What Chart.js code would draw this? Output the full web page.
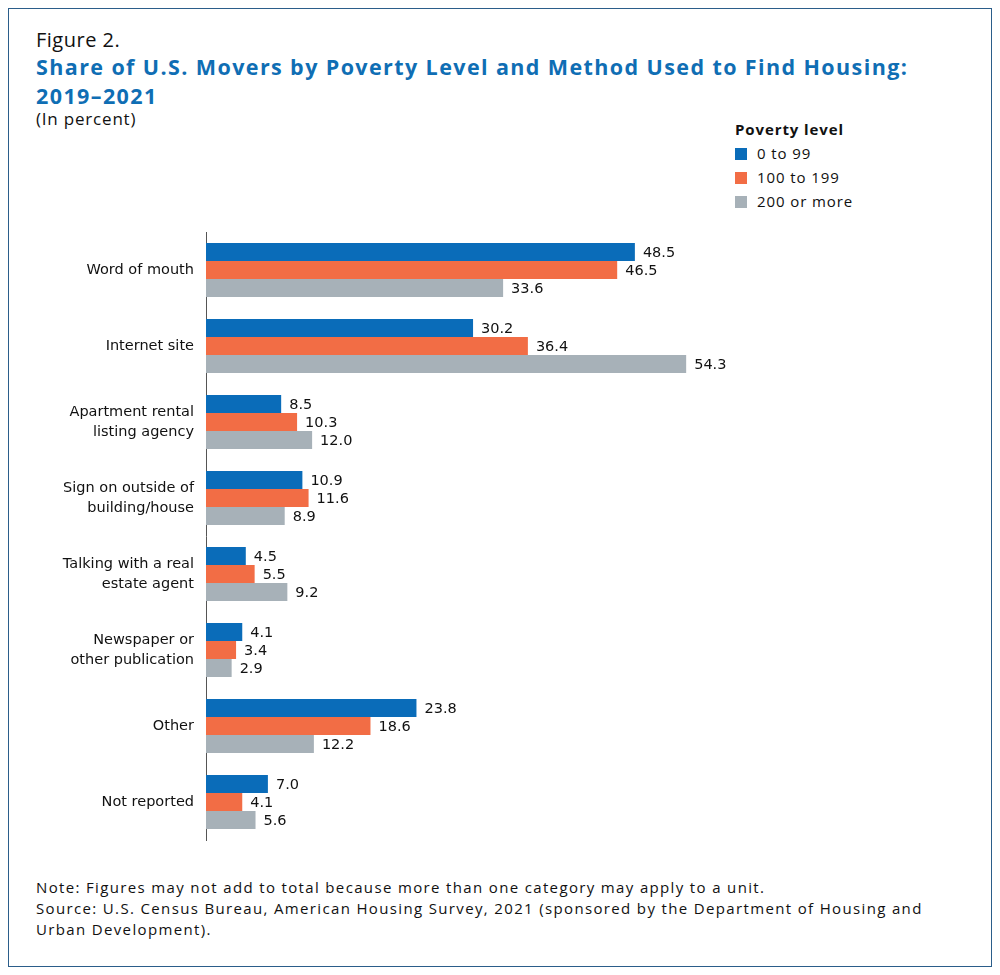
<!DOCTYPE html>
<html><head><meta charset="utf-8">
<script src="https://cdn.jsdelivr.net/npm/chart.js@4"></script>
<style>
body{margin:0;background:#fff;font-family:"Open Sans",sans-serif;color:#111}
#frame{position:absolute;left:8px;top:8px;width:982px;height:957px;border:1.5px solid #2b5d8a}
.t{position:absolute;white-space:nowrap}
canvas{position:absolute;left:0;top:0}
.sw{display:inline-block;width:12px;height:12px;margin-right:10px;vertical-align:-1px}
</style></head><body>
<div id="frame"></div>
<div class="t" style="left:36px;top:26px;font-size:20px;letter-spacing:0.5px">Figure 2.</div>
<div class="t" style="left:36px;top:52px;font-size:21.5px;font-weight:bold;color:#0f6eb4;line-height:29px;letter-spacing:1.4px">Share of U.S. Movers by Poverty Level and Method Used to Find Housing:<br>2019–2021</div>
<div class="t" style="left:36px;top:107px;font-size:17px;letter-spacing:0.8px">(In percent)</div>
<div class="t" style="left:735px;top:117px;font-size:15px;line-height:24px;letter-spacing:0.9px">
<b>Poverty level</b><br>
<span class="sw" style="background:#0a6cb9"></span>0 to 99<br>
<span class="sw" style="background:#f26d45"></span>100 to 199<br>
<span class="sw" style="background:#a7b1b8"></span>200 or more</div>
<div class="t" style="left:36px;top:877px;font-size:15px;line-height:21px;letter-spacing:1.35px">Note: Figures may not add to total because more than one category may apply to a unit.<br>Source: U.S. Census Bureau, American Housing Survey, 2021 (sponsored by the Department of Housing and<br>Urban Development).</div>
<canvas id="c" width="1000" height="975"></canvas>
<script>
const categories = ['Word of mouth', 'Internet site', ['Apartment rental', 'listing agency'], ['Sign on outside of', 'building/house'], ['Talking with a real', 'estate agent'], ['Newspaper or', 'other publication'], 'Other', 'Not reported'];
const pov0to99 = [48.5, 30.2, 8.5, 10.9, 4.5, 4.1, 23.8, 7.0];
const pov100to199 = [46.5, 36.4, 10.3, 11.6, 5.5, 3.4, 18.6, 4.1];
const pov200plus = [33.6, 54.3, 12.0, 8.9, 9.2, 2.9, 12.2, 5.6];

const valueLabels = {
  id: 'valueLabels',
  afterDatasetsDraw(chart) {
    const ctx = chart.ctx;
    ctx.save();
    ctx.font = '14.5px "DejaVu Sans"';
    ctx.fillStyle = '#111';
    ctx.textBaseline = 'middle';
    chart.data.datasets.forEach((ds, i) => {
      chart.getDatasetMeta(i).data.forEach((bar, j) => {
        ctx.fillText(ds.data[j].toFixed(1), bar.x + 8, bar.y + 1);
      });
    });
    ctx.restore();
  }
};

new Chart(document.getElementById('c'), {
  type: 'bar',
  data: {
    labels: categories,
    datasets: [
      {label: '0 to 99', data: pov0to99, backgroundColor: '#0a6cb9'},
      {label: '100 to 199', data: pov100to199, backgroundColor: '#f26d45'},
      {label: '200 or more', data: pov200plus, backgroundColor: '#a7b1b8'}
    ]
  },
  options: {
    indexAxis: 'y',
    responsive: false,
    animation: false,
    layout: {padding: {left: 10, right: 175, top: 232, bottom: 135}},
    datasets: {bar: {categoryPercentage: 0.71, barPercentage: 1}},
    plugins: {legend: {display: false}, tooltip: {enabled: false}},
    scales: {
      x: {display: false, min: 0, max: 70},
      y: {
        grid: {display: false},
        border: {color: '#555', width: 1},
        afterFit(s) { s.width = 196; },
        ticks: {color: '#111', padding: 4, font: {family: 'DejaVu Sans', size: 14.5, lineHeight: 1.35}}
      }
    }
  },
  plugins: [valueLabels]
});
</script>
</body></html>
